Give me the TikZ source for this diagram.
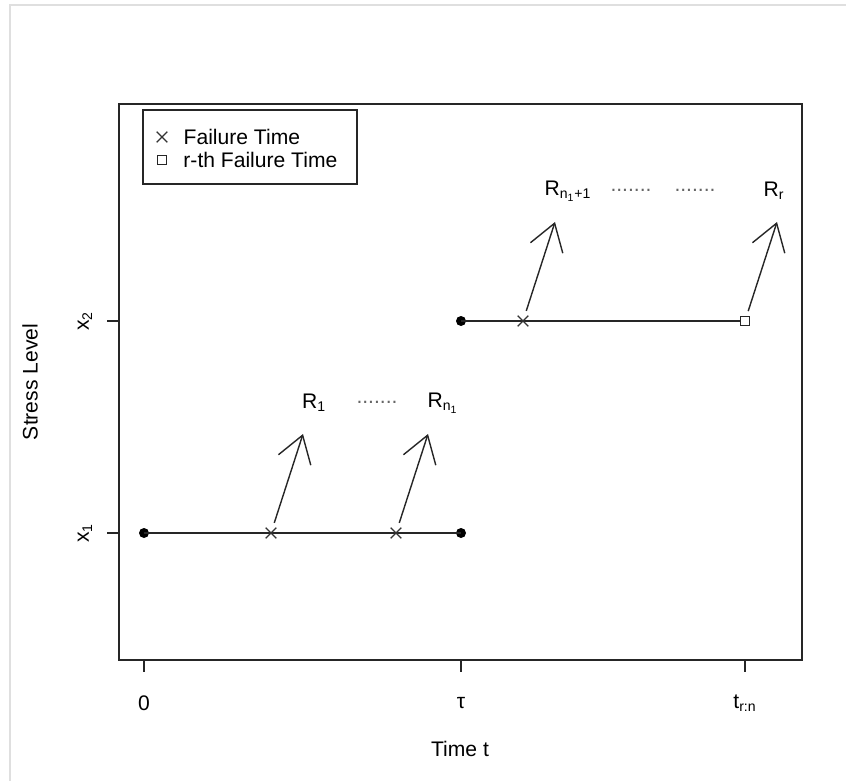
\documentclass[tikz,border=0pt]{standalone}
\usepackage{fontspec}
\setmainfont{Liberation Sans}
\usetikzlibrary{positioning,shapes.misc,arrows.meta}
\tikzstyle{plotline}=[draw=black!85, line width=0.8pt]
\tikzstyle{failmark}=[cross out, draw=black!80, line width=0.7pt, minimum size=0.19cm, inner sep=0pt]
\tikzstyle{rthmark}=[rectangle, draw=black!85, line width=0.7pt, fill=white, minimum size=0.18cm, inner sep=0pt]
\tikzstyle{stressdot}=[circle, fill=black, minimum size=0.2cm, inner sep=0pt]
\tikzstyle{myarrow}=[plotline, -{Straight Barb[length=0.52cm, width=0.68cm, line width=0.8pt]}, shorten <=0.1cm]
\tikzstyle{dotlabel}=[text=black!60, inner sep=0pt]

\begin{document}
\begin{tikzpicture}[x=0.02cm, y=-0.02cm, every node/.style={font=\fontsize{12pt}{14pt}\selectfont}]
	\useasboundingbox (0,0) rectangle (846,781);
	\draw[gray!25, line width=0.8pt] (10,781) -- (10,5) -- (846,5);

	% plot region
	\coordinate (boxsw) at (119,660);
	\coordinate (boxne) at (802,104);
	\draw[plotline] (boxsw) rectangle (boxne);

	\foreach \nm/\xx/\lab in {zero/144/0, tau/461/τ, trn/745/t\textsubscript{r:n}} {
		\coordinate (tick\nm) at (\xx,660);
		\draw[plotline] (tick\nm) -- ++(0,12);
		\node (lab\nm) at (\xx,703) {\lab};
	}
	\foreach \nm/\yy/\lab in {one/533/1, two/321/2} {
		\coordinate (ytick\nm) at (119,\yy);
		\draw[plotline] (ytick\nm) -- ++(-12,0);
		\node (ylab\nm) [rotate=90] at (85,\yy) {x\textsubscript{\lab}};
	}
	\node (xtitle) at (460,749) {Time t};
	\node (ytitle) [rotate=90] at (30,382) {Stress Level};

	% legend
	\node (legend) [draw=black!85, line width=0.8pt, minimum width=4.28cm, minimum height=1.48cm] at (250,147) {};
	\node (legfail) [failmark] at (162,137) {};
	\node (legfailtxt) [right=0.32cm of legfail, inner sep=0pt] {Failure Time};
	\node (legrth) [rthmark] at (162,160) {};
	\node (legrthtxt) [right=0.32cm of legrth, inner sep=0pt] {r-th Failure Time};

	% stress level x1
	\node (xonestart) [stressdot] at (144,533) {};
	\node (xoneend) [stressdot] at (461,533) {};
	\draw[plotline] (xonestart.center) -- (xoneend.center);
	\node (fail1) [failmark] at (271,533) {};
	\node (fail2) [failmark] at (396,533) {};

	% stress level x2
	\node (xtwostart) [stressdot] at (461,321) {};
	\node (rthfail) [rthmark] at (745,321) {};
	\draw[plotline] (xtwostart.center) -- (rthfail.west);
	\node (fail3) [failmark] at (523,321) {};

	\coordinate (tip1) at (303,434);
	\coordinate (tip2) at (428,434);
	\coordinate (tip3) at (555,222);
	\coordinate (tip4) at (777,222);
	\draw[myarrow] (fail1) -- (tip1);
	\draw[myarrow] (fail2) -- (tip2);
	\draw[myarrow] (fail3) -- (tip3);
	\draw[myarrow] (rthfail) -- (tip4);

	\node (rone) at (314,403) {R\textsubscript{1}};
	\node (dotsone) [dotlabel] at (377,402) {.......};
	\node (rnone) at (443,403) {R\textsubscript{n\textsubscript{1}}};
	\node (rnext) at (568,191) {R\textsubscript{n\textsubscript{1}+1}};
	\node (dotstwo) [dotlabel] at (631,190) {.......};
	\node (dotsthree) [dotlabel] at (695,190) {.......};
	\node (rr) at (774,191) {R\textsubscript{r}};
\end{tikzpicture}
\end{document}
